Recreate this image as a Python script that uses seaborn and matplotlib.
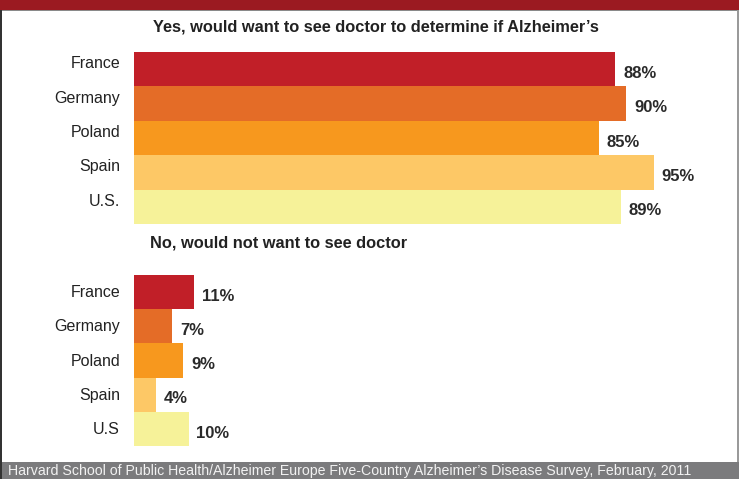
import matplotlib
matplotlib.use("Agg")
import matplotlib.pyplot as plt
import matplotlib.transforms as mtransforms
import seaborn as sns
import pandas as pd
from matplotlib.patches import Rectangle

sns.set_theme(style="white")
plt.rcParams["font.family"] = ["Liberation Sans", "DejaVu Sans"]

# Survey data
yes_countries = ["France", "Germany", "Poland", "Spain", "U.S."]
yes_values = [88, 90, 85, 95, 89]
no_countries = ["France", "Germany", "Poland", "Spain", "U.S"]
no_values = [11, 7, 9, 4, 10]
bar_colors = ["#c11f28", "#e46c27", "#f7981e", "#fdc866", "#f6f299"]

yes_title = "Yes, would want to see doctor to determine if Alzheimer\u2019s"
no_title = "No, would not want to see doctor"
source = ("Harvard School of Public Health/Alzheimer Europe Five-Country "
          "Alzheimer\u2019s Disease Survey, February, 2011")

W, H = 739, 479
fig = plt.figure(figsize=(W / 100, H / 100), dpi=100)
fig.patch.set_facecolor("white")

# frame: dark red header band, grey footer band, thin side rules
fig.patches.append(Rectangle((0, 1 - 10 / H), 1, 10 / H, transform=fig.transFigure,
                             facecolor="#9b1a21", edgecolor="none", zorder=0))
fig.patches.append(Rectangle((0, 1 - 11 / H), 1, 1 / H, transform=fig.transFigure,
                             facecolor="#8a8a8a", edgecolor="none", zorder=0))
fig.patches.append(Rectangle((0, 0), 1, 17.5 / H, transform=fig.transFigure,
                             facecolor="#7b7b7d", edgecolor="none", zorder=0))
fig.patches.append(Rectangle((0, 0), 2 / W, 1 - 10 / H, transform=fig.transFigure,
                             facecolor="#333333", edgecolor="none", zorder=0))
fig.patches.append(Rectangle((1 - 2 / W, 17 / H), 2 / W, 1 - 27 / H, transform=fig.transFigure,
                             facecolor="#9a9a9a", edgecolor="none", zorder=0))

x0 = 134 / W
ax_w = 547 / W  # 0..100 %


def panel(top_px, bot_px, countries, values, label_lift_px):
    ax = fig.add_axes([x0, 1 - bot_px / H, ax_w, (bot_px - top_px) / H])
    df = pd.DataFrame({"country": countries, "value": values})
    sns.barplot(data=df, x="value", y="country", hue="country",
                palette=bar_colors, orient="h", width=1.0, legend=False,
                saturation=1, ax=ax, edgecolor="none")
    ax.set_xlim(0, 100)
    ax.set_ylim(len(countries) - 0.5, -0.5)
    ax.set_xlabel("")
    ax.set_ylabel("")
    ax.set_xticks([])
    ax.tick_params(axis="y", length=0, pad=10, labelsize=11.5, labelcolor="#222222")
    lift = mtransforms.ScaledTranslation(0, label_lift_px / 100, fig.dpi_scale_trans)
    for lab in ax.get_yticklabels():
        lab.set_transform(lab.get_transform() + lift)
    for s in ax.spines.values():
        s.set_visible(False)
    ax.set_facecolor("none")
    for i, v in enumerate(values):
        ax.text(v + 1.4, i + 0.12, f"{v}%", va="center", ha="left",
                fontsize=12, fontweight="bold", color="#2a2a2a")
    return ax


panel(52, 224, yes_countries, yes_values, 7)
panel(275, 446, no_countries, no_values, 1)

fig.text(376 / W, 1 - 27 / H, yes_title, ha="center", va="center",
         fontsize=11.8, fontweight="bold", color="#222222")
fig.text(150 / W, 1 - 243 / H, no_title, ha="left", va="center",
         fontsize=11.8, fontweight="bold", color="#222222")
fig.text(8 / W, 1 - 463.5 / H, source, ha="left", va="top",
         fontsize=10.2, color="#f2f2f2")

fig.savefig("out.png", dpi=100)
